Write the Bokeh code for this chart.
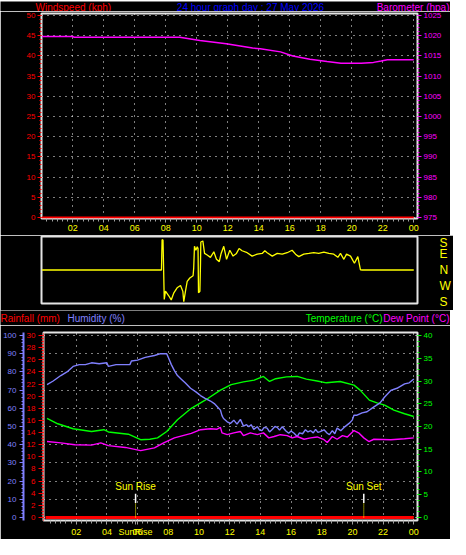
from bokeh.plotting import figure
from bokeh.models import Range1d, LinearAxis, FixedTicker, SingleIntervalTicker, ColumnDataSource
from bokeh.layouts import column
from bokeh.embed import file_html
from bokeh.resources import INLINE
from bokeh.core.properties import value

# ---------------- data ----------------
chart_title = "24 hour graph day : 27 May 2026"
top_headers = ["Windspeed (kph)", chart_title, "Barometer (hpa)"]
bottom_headers = ["Rainfall (mm)", "Humidity (%)", "Temperature (°C)", "Dew Point (°C)"]
hour_ticks = [2, 4, 6, 8, 10, 12, 14, 16, 18, 20, 22, 24]
hour_labels = ["02", "04", "06", "08", "10", "12", "14", "16", "18", "20", "22", "00"]
dir_ticks = [180, 90, 0, -90, -180]
dir_labels = ["S", "E", "N", "W", "S"]

windspeed_hours = [0, 24]
windspeed = [0, 0]

baro_hours = [0, 2.0, 2.1, 6.0, 8.9, 9.6, 10.2, 11.9, 13.6, 14.1, 15.4, 16.2, 17.3,
              18.4, 19.3, 20.6, 21.4, 21.9, 22.3, 24]
barometer = [1019.8, 1019.8, 1019.6, 1019.6, 1019.6, 1019.2, 1018.8, 1018.0, 1016.95,
             1016.8, 1016.0, 1015.0, 1014.15, 1013.6, 1013.2, 1013.2, 1013.4, 1013.75,
             1014.05, 1014.05]

dir_hours = [0, 7.72, 7.76, 7.82, 7.9, 7.98, 8.2, 8.35, 8.52, 8.73, 8.95, 9.1, 9.16,
             9.27, 9.38, 9.55, 9.76, 9.8, 9.85, 9.94, 10.03, 10.08, 10.11, 10.2, 10.24,
             10.26, 10.39, 10.5, 10.67, 10.88, 11.1, 11.27, 11.45, 11.57, 11.74, 11.92,
             12.13, 12.34, 12.56, 12.73, 12.92, 13.25, 13.57, 13.9, 14.22, 14.39, 14.54,
             14.87, 15.19, 15.51, 15.83, 16.15, 16.37, 16.58, 16.9, 17.23, 17.55, 17.87,
             18.2, 18.52, 18.84, 19.1, 19.27, 19.49, 19.66, 19.92, 20.17, 20.39, 20.56,
             20.67, 24]
wind_dir = [0, 0, 170, 168, -165, -119, -146, -168, -128, -100, -87, -120, -178,
            -119, -64, -45, -32, 10, 133, 111, 130, 120, -128, -119, 40,
            157, 163, 93, 84, 71, 102, 60, 47, 93, 133, 60,
            111, 78, 93, 121, 108, 97, 78, 89, 93, 108, 97,
            78, 93, 89, 97, 111, 89, 75, 89, 93, 97, 93,
            100, 93, 89, 71, 93, 60, 89, 78, 38, 75, 1,
            0, 0]

hum_hours = [0.1, 0.5, 1.0, 1.4, 1.8, 2.2, 2.6, 3.0, 3.5, 4.0,
             4.1, 4.6, 5.0, 5.5, 5.6, 6.0, 6.5, 7.1, 7.5, 7.9,
             8.0, 8.2, 8.4, 8.6, 8.85, 9.1, 9.45, 9.8, 10.1, 10.4,
             10.75, 11.0, 11.18, 11.4, 11.5, 11.6, 11.84, 12.05, 12.27, 12.48,
             12.7, 12.9, 13.1, 13.25, 13.4, 13.57, 13.8, 13.95, 14.1, 14.25,
             14.44, 14.6, 14.77, 14.95, 15.1, 15.25, 15.43, 15.65, 15.85, 16.0,
             16.2, 16.4, 16.55, 16.75, 16.94, 17.1, 17.28, 17.45, 17.6, 17.75,
             17.9, 18.15, 18.36, 18.5, 18.69, 18.85, 19.0, 19.24, 19.45, 19.6,
             19.78, 19.99, 20.1, 20.3, 20.63, 20.95, 21.4, 21.8, 22.1, 22.5,
             22.9, 23.4, 23.7, 24.0]
humidity = [73, 75, 78, 80, 83, 84, 84, 85, 84.5, 85,
            83, 84, 84, 84, 86, 86.5, 88, 89, 90, 90,
            88, 84, 80.7, 78, 76, 74, 71, 69, 67, 65.5,
            64, 62.6, 61, 59, 56, 54.4, 52.6, 51.7, 53.5, 51.3,
            53.9, 50.2, 51, 49.9, 51, 48.4, 49.9, 48, 47.7, 49.5,
            49.1, 47, 48.4, 50, 49.5, 48, 49.9, 47.7, 46.3, 47.5,
            46.3, 44.5, 46.5, 46, 48.2, 47, 47.7, 46.5, 48.4, 46.8,
            47.2, 48.2, 46.3, 45.5, 47.7, 46, 49.1, 47.7, 49.5, 50.5,
            51.7, 53.5, 56.2, 56.2, 57.5, 58.1, 60.8, 63, 66.2, 69.8,
            71, 73.4, 74, 76.1]

temp_hours = [0.1, 0.8, 1.8, 3.0, 3.8, 4.1, 5.4, 6.2, 6.8, 7.3,
              7.9, 8.6, 9.5, 10.6, 11.4, 12.1, 12.9, 13.6, 14.2, 14.6,
              15.0, 15.7, 16.4, 17.0, 17.7, 18.3, 19.2, 20.1, 20.5, 21.1,
              21.6, 22.1, 22.7, 23.4, 24.0]
temperature = [21.8, 20.6, 19.5, 18.9, 19.3, 18.8, 18.3, 17.1, 17.2, 17.5,
               18.9, 21.5, 24.0, 26.2, 28.0, 29.2, 29.8, 30.2, 31.0, 29.9,
               30.5, 30.9, 31.0, 30.4, 30.0, 29.6, 29.9, 29.1, 28.0, 25.8,
               25.2, 24.7, 23.6, 22.8, 22.2]

dew_hours = [0.1, 1.0, 1.9, 3.0, 3.6, 4.1, 5.2, 6.2, 7.1, 7.7,
             8.4, 9.5, 10.1, 10.75, 11.18, 11.4, 11.5, 11.84, 12.27, 12.7,
             12.9, 13.35, 13.8, 14.2, 14.55, 14.9, 15.3, 15.75, 16.07, 16.4,
             16.85, 17.28, 17.7, 18.15, 18.36, 18.69, 19.0, 19.35, 19.67, 20.1,
             20.4, 20.74, 21.07, 21.4, 22.5, 23.4, 24.0]
dew_point = [16.7, 16.4, 16.0, 15.9, 16.4, 15.8, 15.4, 14.7, 15.3, 16.4,
             17.5, 18.5, 19.3, 19.5, 19.4, 19.8, 18.6, 18.2, 18.6, 18.9,
             18.0, 18.6, 18.2, 18.6, 17.5, 17.8, 18.2, 18.0, 17.5, 17.8,
             17.2, 17.5, 17.7, 17.1, 16.5, 17.8, 17.2, 18.0, 17.7, 19.1,
             18.6, 17.5, 16.7, 17.2, 17.1, 17.3, 17.5]

rain_hours = [0, 24]
rainfall = [0, 0]

sun_times = [5.87, 20.74]
sun_labels = ["Sun Rise", "Sun Set"]
sunrise_axis_label = "SunRise"

# ---------------- style ----------------
FONT = "Liberation Sans"
FRAME = "#e4e4e4"
RED, MAG, BLUE, GREEN, YEL, GREY = "#ff0000", "#ff00ff", "#8080ff", "#00ff00", "#ffff00", "#a0a0a0"
TITLE_BLUE = "#0000ff"
W = 450
minor_hours = [k / 3 for k in range(1, 73) if k % 6 != 0]


def base_fig(fw, fh, xr, yr, left, right, top, bottom, **kw):
    return figure(frame_width=fw, frame_height=fh, x_range=xr, y_range=yr,
                  output_backend="svg", toolbar_location=None, frame_align=False,
                  min_border_left=left, min_border_right=right,
                  min_border_top=top, min_border_bottom=bottom,
                  background_fill_color="black", border_fill_color="black",
                  outline_line_color=FRAME, outline_line_width=2, **kw)


def style_axis(ax, color, size="8px", tick=None, minor=2, out=4, standoff=2):
    tc = tick or color
    ax.axis_line_color = None
    ax.major_tick_line_color = tc
    ax.minor_tick_line_color = tc
    ax.major_tick_in = 0
    ax.major_tick_out = out
    ax.minor_tick_in = 0
    ax.minor_tick_out = minor
    ax.major_label_text_color = color
    ax.major_label_text_font = FONT
    ax.major_label_text_font_size = size
    ax.major_label_standoff = standoff


def style_grid(g):
    g.grid_line_color = "white"
    g.grid_line_dash = "1 5"
    g.grid_line_width = 1


def hour_axis(ax, extra_ticks=None):
    extra_ticks = extra_ticks or {}
    ticks = hour_ticks + list(extra_ticks.keys())
    ax.ticker = FixedTicker(ticks=ticks, minor_ticks=minor_hours)
    overrides = dict(zip(hour_ticks, hour_labels))
    overrides.update(extra_ticks)
    ax.major_label_overrides = overrides
    style_axis(ax, YEL, size="9px", tick=GREY, minor=3)


def header_fig(h, items):
    """items: list of (text, x, color, align) - a header strip above a panel"""
    hf = figure(frame_width=W, frame_height=h, x_range=Range1d(0, W), y_range=Range1d(0, h),
                output_backend="svg", toolbar_location=None, min_border=0, frame_align=False,
                x_axis_location=None, y_axis_location=None,
                background_fill_color="black", border_fill_color="black",
                outline_line_color=None)
    hf.grid.visible = False
    for text, x, color, align in items:
        hf.text(x=[x], y=[h / 2], text=[text], text_color=color, text_align=align,
                text_baseline="middle", text_font=value(FONT), text_font_size="10px")
    return hf


# ---------------- header of top panel ----------------
h1 = header_fig(11, [(top_headers[0], 35, RED, "left"),
                     (top_headers[1], 250, TITLE_BLUE, "center"),
                     (top_headers[2], 449, MAG, "right")])

# ---------------- top panel: windspeed / barometer ----------------
p1 = base_fig(376, 205, Range1d(-0.02, 24.24), Range1d(-0.25, 50.5), 41, 33, 2, 17)
p1.extra_y_ranges = {"baro": Range1d(974.75, 1025.5)}
hour_axis(p1.xaxis[0])
ws_axis = p1.yaxis[0]
ws_axis.ticker = SingleIntervalTicker(interval=5, num_minor_ticks=5)
style_axis(ws_axis, RED)
baro_axis = LinearAxis(y_range_name="baro", ticker=SingleIntervalTicker(interval=5, num_minor_ticks=5))
style_axis(baro_axis, MAG)
p1.add_layout(baro_axis, "right")
for g in p1.grid:
    style_grid(g)
p1.line(baro_hours, barometer, y_range_name="baro", line_color=MAG, line_width=1.5)
p1.line(windspeed_hours, windspeed, line_color=RED, line_width=2)

# ---------------- middle panel: wind direction ----------------
p2 = base_fig(376, 67, p1.x_range, Range1d(-188, 188), 41, 33, 1, 7,
              x_axis_location=None, y_axis_location="right")
p2.grid.visible = False
dax = p2.yaxis[0]
dax.ticker = FixedTicker(ticks=dir_ticks, minor_ticks=[])
dax.major_label_overrides = dict(zip(dir_ticks, dir_labels))
dax.axis_line_color = None
dax.major_tick_line_color = None
dax.minor_tick_line_color = None
dax.major_label_standoff = 16
dax.major_label_text_color = YEL
dax.major_label_text_font = FONT
dax.major_label_text_font_size = "12px"
p2.line(dir_hours, wind_dir, line_color=YEL, line_width=1.3)

# ---------------- header of bottom panel ----------------
h3 = header_fig(15, [(bottom_headers[0], 0, RED, "left"),
                     (bottom_headers[1], 67, BLUE, "left"),
                     (bottom_headers[2], 382, GREEN, "right"),
                     (bottom_headers[3], 449, MAG, "right")])

# ---------------- bottom panel: rain / humidity / temperature ----------------
p3 = base_fig(374, 188, Range1d(-0.13, 24.24), Range1d(-1.65, 101.65), 43, 33, 7, 18)
p3.extra_y_ranges = {"rain": Range1d(-0.495, 30.495), "temp": Range1d(-0.66, 40.66)}
hour_axis(p3.xaxis[0], {sun_times[0]: sunrise_axis_label})
xg = p3.xgrid[0]
xg.axis = None
xg.ticker = FixedTicker(ticks=hour_ticks)
hum_axis = p3.yaxis[0]
hum_axis.ticker = SingleIntervalTicker(interval=10, num_minor_ticks=5)
style_axis(hum_axis, BLUE, standoff=3)
hum_axis.axis_line_color = BLUE
hum_axis.axis_line_width = 2
rain_axis = LinearAxis(y_range_name="rain", ticker=SingleIntervalTicker(interval=2, num_minor_ticks=4))
style_axis(rain_axis, RED, out=5, standoff=3)
rain_axis.axis_line_color = RED
rain_axis.axis_line_dash = "1 1"
p3.add_layout(rain_axis, "left")
p3.left = [rain_axis, hum_axis]
temp_axis = LinearAxis(y_range_name="temp", ticker=SingleIntervalTicker(interval=5, num_minor_ticks=4))
style_axis(temp_axis, GREEN)
p3.add_layout(temp_axis, "right")
for g in p3.grid:
    style_grid(g)

p3.line(temp_hours, temperature, y_range_name="temp", line_color=GREEN, line_width=1.4)
p3.line(hum_hours, humidity, line_color=BLUE, line_width=1.4)
p3.line(dew_hours, dew_point, y_range_name="temp", line_color=MAG, line_width=1.4)
p3.line(rain_hours, rainfall, y_range_name="rain", line_color=RED, line_width=3)

n_sun = len(sun_times)
sun_src = ColumnDataSource(dict(t=sun_times, lab=sun_labels,
                                y0=[0] * n_sun, y1=[8] * n_sun, y2=[13] * n_sun, ty=[14] * n_sun))
p3.segment(x0="t", y0="y0", x1="t", y1="y1", source=sun_src, line_color=YEL, line_dash="1 1")
p3.segment(x0="t", y0="y1", x1="t", y1="y2", source=sun_src, line_color="white", line_width=1.5)
p3.text(x="t", y="ty", text="lab", source=sun_src, text_color=YEL, text_font=value(FONT),
        text_font_size="10px", text_align="center", text_baseline="bottom")

layout = column(h1, p1, p2, h3, p3)
open("out.html", "w").write(file_html(layout, INLINE))
